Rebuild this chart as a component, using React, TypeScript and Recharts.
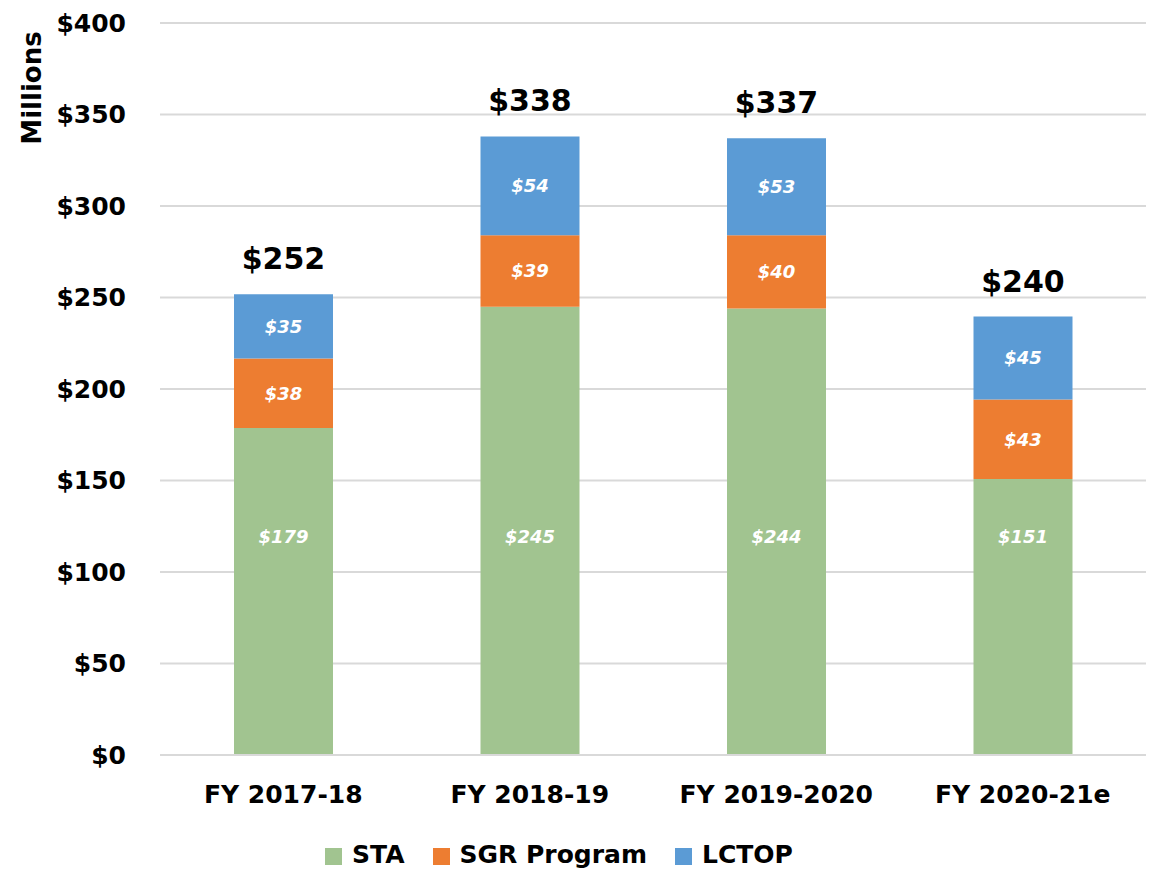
import { BarChart, Bar, XAxis, YAxis, CartesianGrid, Legend, LabelList } from 'recharts';

const categories = ['FY 2017-18', 'FY 2018-19', 'FY 2019-2020', 'FY 2020-21e'];
const sta = [178.7, 245, 244, 150.8];
const sgr = [37.9, 39, 40, 43.4];
const lctop = [35.2, 54, 53, 45.4];
const yTicks = [0, 50, 100, 150, 200, 250, 300, 350, 400];
const seriesOrder = ['STA', 'SGR Program', 'LCTOP'];

const data = categories.map((name, i) => ({
  name,
  STA: sta[i],
  'SGR Program': sgr[i],
  LCTOP: lctop[i],
  total: sta[i] + sgr[i] + lctop[i],
}));

const FONT = '"DejaVu Sans", sans-serif';

const innerLabel = {
  fill: '#ffffff',
  fontSize: 18,
  fontStyle: 'italic',
  fontWeight: 700,
  fontFamily: FONT,
};

const fmt = (v: any) => `$${Math.round(Number(v))}`;

const App = () => {
  return (
    <div style={{ position: 'absolute', left: 0, top: 0, width: 1152, height: 869, background: '#fff' }}>
      <BarChart
        width={1152}
        height={869}
        data={data}
        margin={{ top: 23, right: 6, left: 0, bottom: 0 }}
        barSize={99}
      >
        <CartesianGrid vertical={false} stroke="#d9d9d9" strokeWidth={2} />
        <XAxis
          dataKey="name"
          axisLine={{ stroke: '#d9d9d9', strokeWidth: 2 }}
          tickLine={false}
          tickMargin={24}
          height={85}
          tick={{ fill: '#000', fontSize: 25, fontWeight: 700, fontFamily: FONT }}
        />
        <YAxis
          domain={[0, 400]}
          ticks={yTicks}
          width={160}
          axisLine={false}
          tickLine={false}
          tickMargin={28}
          tickFormatter={(v) => `$${v}`}
          tick={{ fill: '#000', fontSize: 25, fontWeight: 700, fontFamily: FONT }}
        />
        <Legend
          verticalAlign="bottom"
          iconType="square"
          iconSize={17}
          itemSorter={(item: any) => seriesOrder.indexOf(String(item.value))}
          wrapperStyle={{ fontFamily: FONT, fontSize: 25, fontWeight: 700, bottom: 0 }}
          formatter={(value) => (
            <span style={{ color: '#000', marginLeft: 6, marginRight: 18 }}>{value}</span>
          )}
        />
        <Bar dataKey="STA" stackId="a" fill="#a1c490" isAnimationActive={false}>
          <LabelList dataKey="STA" position="insideBottom" offset={212} formatter={fmt} style={innerLabel} />
        </Bar>
        <Bar dataKey="SGR Program" stackId="a" fill="#ed7d31" isAnimationActive={false}>
          <LabelList dataKey="SGR Program" position="center" formatter={fmt} style={innerLabel} />
        </Bar>
        <Bar dataKey="LCTOP" stackId="a" fill="#5b9bd5" isAnimationActive={false}>
          <LabelList dataKey="LCTOP" position="center" formatter={fmt} style={innerLabel} />
          <LabelList
            dataKey="total"
            position="top"
            offset={25}
            formatter={fmt}
            style={{ fill: '#000', fontSize: 30, fontWeight: 700, fontFamily: FONT }}
          />
        </Bar>
        <text
          x={32}
          y={88}
          transform="rotate(-90 32 88)"
          textAnchor="middle"
          dominantBaseline="central"
          style={{ fontSize: 26, fontWeight: 700, fontFamily: FONT, fill: '#000' }}
        >
          Millions
        </text>
      </BarChart>
    </div>
  );
};

export default App;
